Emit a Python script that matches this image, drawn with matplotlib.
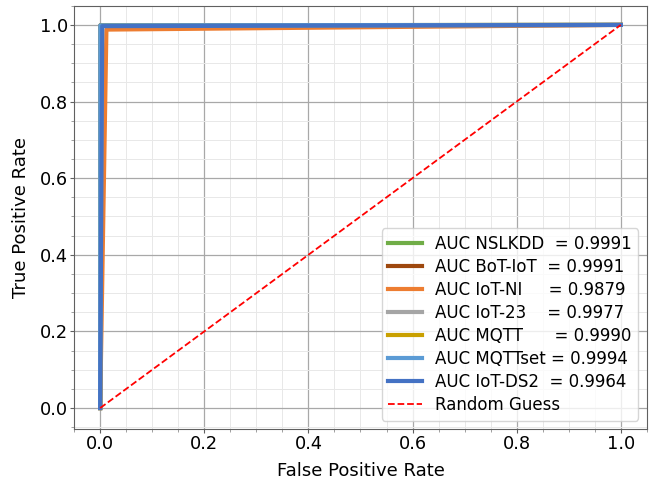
import matplotlib
matplotlib.use("Agg")
import matplotlib.pyplot as plt
from matplotlib.ticker import AutoMinorLocator

datasets = ["NSLKDD", "BoT-IoT", "IoT-NI", "IoT-23", "MQTT", "MQTTset", "IoT-DS2"]
label_names = ["NSLKDD ", "BoT-IoT ", "IoT-NI    ", "IoT-23   ", "MQTT     ", "MQTTset", "IoT-DS2 "]
auc_values = [0.9991, 0.9991, 0.9879, 0.9977, 0.9990, 0.9994, 0.9964]
fpr_points = [
    [0.0, 0.0010, 1.0],
    [0.0, 0.0005, 1.0],
    [0.0, 0.0120, 1.0],
    [0.0, 0.0030, 1.0],
    [0.0, 0.0010, 1.0],
    [0.0, 0.0002, 1.0],
    [0.0, 0.0040, 1.0],
]
tpr_points = [
    [0.0, 0.9992, 1.0],
    [0.0, 0.9987, 1.0],
    [0.0, 0.9878, 1.0],
    [0.0, 0.9984, 1.0],
    [0.0, 0.9990, 1.0],
    [0.0, 0.9990, 1.0],
    [0.0, 0.9968, 1.0],
]
colors = ["#70AD47", "#9E480E", "#ED7D31", "#A5A5A5", "#C9A000", "#5B9BD5", "#4472C4"]
random_x = [0.0, 1.0]
random_y = [0.0, 1.0]

fig = plt.figure(figsize=(6.56, 4.8), dpi=100)
ax = fig.add_axes([0.113, 0.106, 0.873, 0.882])

for name, lab, auc, fx, ty, c in zip(datasets, label_names, auc_values, fpr_points, tpr_points, colors):
    ax.plot(fx, ty, color=c, lw=3, label=f"AUC {lab} = {auc:.4f}")
ax.plot(random_x, random_y, color="red", ls="--", lw=1.3, label="Random Guess")

ax.set_xlim(-0.05, 1.05)
ax.set_ylim(-0.055, 1.05)
ax.xaxis.set_minor_locator(AutoMinorLocator(4))
ax.yaxis.set_minor_locator(AutoMinorLocator(4))
ax.grid(which="major", color="#a8a8a8", lw=0.9)
ax.grid(which="minor", color="#e8e8e8", lw=0.7)
ax.set_axisbelow(True)
for s in ax.spines.values():
    s.set_color("#606060")
ax.tick_params(axis="both", which="major", labelsize=12.8, color="#606060", length=3, pad=1.5)
ax.tick_params(axis="both", which="minor", color="#909090", length=2)
ax.set_xlabel("False Positive Rate", fontsize=13, labelpad=6)
ax.set_ylabel("True Positive Rate", fontsize=13, labelpad=7)
ax.legend(loc="lower right", fontsize=12, handlelength=2.0, labelspacing=0.3)

fig.savefig("out.png", dpi=100)
